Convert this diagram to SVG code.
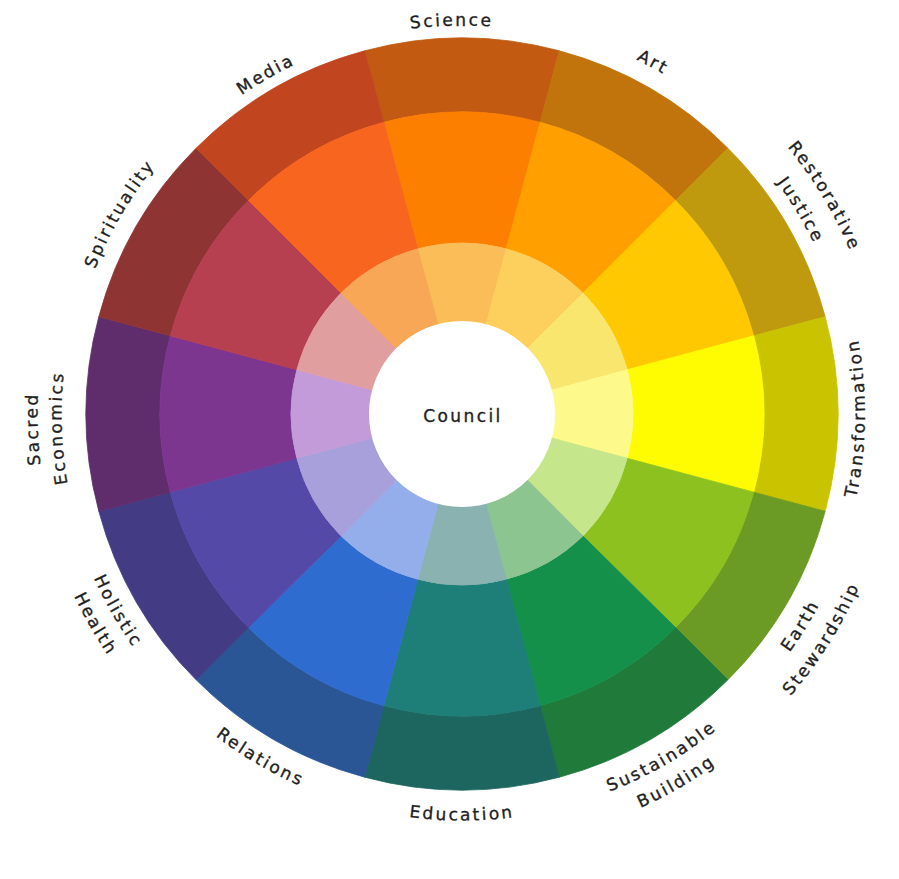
<svg xmlns="http://www.w3.org/2000/svg" width="899" height="879" viewBox="0 0 899 879">
<style>
.w { stroke-width: 0.8; stroke-linejoin: round; }
.lbl { font-family: "DejaVu Sans", "Liberation Sans", sans-serif; font-size: 17px; letter-spacing: 2.4px; fill: #1f1f1f; stroke: #1f1f1f; stroke-width: 0.35px; }
</style>
<defs>
<path id="pScience" d="M77.77,356.58 A388.5,388.5 0 0 1 842.70,336.54"/>
<path id="pArt" d="M152.87,168.11 A395,395 0 0 1 836.59,539.33"/>
<path id="pRest" d="M311.13,20.96 A421,421 0 0 1 738.20,731.73"/>
<path id="pJust" d="M321.88,48.97 A391,391 0 0 1 718.52,709.09"/>
<path id="pTrans" d="M527.82,811.59 A403,403 0 0 0 536.13,17.88"/>
<path id="pEarth" d="M310.28,789.51 A405,405 0 0 0 733.00,113.03"/>
<path id="pStew" d="M299.79,815.47 A433,433 0 0 0 751.73,92.22"/>
<path id="pSust" d="M152.28,675.73 A405.5,405.5 0 0 0 842.56,273.98"/>
<path id="pBuild" d="M131.66,693.16 A432.5,432.5 0 0 0 867.90,264.66"/>
<path id="pEdu" d="M61.67,484.59 A406.5,406.5 0 0 0 862.33,484.59"/>
<path id="pRel" d="M81.93,272.65 A405.5,405.5 0 0 0 770.80,676.81"/>
<path id="pHol" d="M204.04,104.38 A403,403 0 0 0 598.51,793.17"/>
<path id="pHealth" d="M187.71,84.79 A428.5,428.5 0 0 0 607.15,817.17"/>
<path id="pSacred" d="M402.92,834.37 A424.5,424.5 0 0 1 373.74,-1.22"/>
<path id="pEcon" d="M406.26,810.60 A400.5,400.5 0 0 1 378.73,22.25"/>
<path id="pSpirit" d="M206.84,714.87 A394.5,394.5 0 0 1 598.87,44.00"/>
<path id="pMedia" d="M97.87,546.53 A387.5,387.5 0 0 1 758.84,164.92"/>
</defs>
<rect width="899" height="879" fill="#ffffff"/>

<g id="science">
<path class="w" fill="#c25a12" stroke="#c25a12" d="M364.68,50.81 A376,376 0 0 1 559.32,50.81 L540.16,122.29 A302,302 0 0 0 383.84,122.29 Z"/>
<path class="w" fill="#fc7f00" stroke="#fc7f00" d="M383.84,122.29 A302,302 0 0 1 540.16,122.29 L506.26,248.83 A171,171 0 0 0 417.74,248.83 Z"/>
<path class="w" fill="#fbbd57" stroke="#fbbd57" d="M462,414 L417.74,248.83 A171,171 0 0 1 506.26,248.83 Z"/>
<text class="lbl"><textPath href="#pScience" startOffset="50%" text-anchor="middle">Science</textPath></text>
</g>
<g id="art">
<path class="w" fill="#c2740c" stroke="#c2740c" d="M559.32,50.81 A376,376 0 0 1 727.87,148.13 L675.55,200.45 A302,302 0 0 0 540.16,122.29 Z"/>
<path class="w" fill="#ffa000" stroke="#ffa000" d="M540.16,122.29 A302,302 0 0 1 675.55,200.45 L582.92,293.09 A171,171 0 0 0 506.26,248.83 Z"/>
<path class="w" fill="#fdcf5d" stroke="#fdcf5d" d="M462,414 L506.26,248.83 A171,171 0 0 1 582.92,293.09 Z"/>
<text class="lbl"><textPath href="#pArt" startOffset="50%" text-anchor="middle">Art</textPath></text>
</g>
<g id="restorative-justice">
<path class="w" fill="#bf9a0e" stroke="#bf9a0e" d="M727.87,148.13 A376,376 0 0 1 825.19,316.68 L753.71,335.84 A302,302 0 0 0 675.55,200.45 Z"/>
<path class="w" fill="#ffc800" stroke="#ffc800" d="M675.55,200.45 A302,302 0 0 1 753.71,335.84 L627.17,369.74 A171,171 0 0 0 582.92,293.09 Z"/>
<path class="w" fill="#f9e66e" stroke="#f9e66e" d="M462,414 L582.92,293.09 A171,171 0 0 1 627.17,369.74 Z"/>
<text class="lbl"><textPath href="#pRest" startOffset="50%" text-anchor="middle">Restorative</textPath></text>
<text class="lbl"><textPath href="#pJust" startOffset="50%" text-anchor="middle">Justice</textPath></text>
</g>
<g id="transformation">
<path class="w" fill="#c9c300" stroke="#c9c300" d="M825.19,316.68 A376,376 0 0 1 825.19,511.32 L753.71,492.16 A302,302 0 0 0 753.71,335.84 Z"/>
<path class="w" fill="#fffb00" stroke="#fffb00" d="M753.71,335.84 A302,302 0 0 1 753.71,492.16 L627.17,458.26 A171,171 0 0 0 627.17,369.74 Z"/>
<path class="w" fill="#fdf98b" stroke="#fdf98b" d="M462,414 L627.17,369.74 A171,171 0 0 1 627.17,458.26 Z"/>
<text class="lbl"><textPath href="#pTrans" startOffset="50%" text-anchor="middle">Transformation</textPath></text>
</g>
<g id="earth-stewardship">
<path class="w" fill="#6b9a25" stroke="#6b9a25" d="M825.19,511.32 A376,376 0 0 1 727.87,679.87 L675.55,627.55 A302,302 0 0 0 753.71,492.16 Z"/>
<path class="w" fill="#8cc11f" stroke="#8cc11f" d="M753.71,492.16 A302,302 0 0 1 675.55,627.55 L582.92,535.92 A171,171 0 0 0 627.17,458.26 Z"/>
<path class="w" fill="#c5e68a" stroke="#c5e68a" d="M462,414 L627.17,458.26 A171,171 0 0 1 582.92,535.92 Z"/>
<text class="lbl"><textPath href="#pEarth" startOffset="50%" text-anchor="middle">Earth</textPath></text>
<text class="lbl"><textPath href="#pStew" startOffset="50%" text-anchor="middle">Stewardship</textPath></text>
</g>
<g id="sustainable-building">
<path class="w" fill="#207a3a" stroke="#207a3a" d="M727.87,679.87 A376,376 0 0 1 559.32,777.19 L540.16,705.71 A302,302 0 0 0 675.55,627.55 Z"/>
<path class="w" fill="#14904b" stroke="#14904b" d="M675.55,627.55 A302,302 0 0 1 540.16,705.71 L506.26,579.17 A171,171 0 0 0 582.92,535.92 Z"/>
<path class="w" fill="#8cc58f" stroke="#8cc58f" d="M462,414 L582.92,535.92 A171,171 0 0 1 506.26,579.17 Z"/>
<text class="lbl"><textPath href="#pSust" startOffset="50%" text-anchor="middle">Sustainable</textPath></text>
<text class="lbl"><textPath href="#pBuild" startOffset="50%" text-anchor="middle">Building</textPath></text>
</g>
<g id="education">
<path class="w" fill="#1d665f" stroke="#1d665f" d="M559.32,777.19 A376,376 0 0 1 364.68,777.19 L383.84,705.71 A302,302 0 0 0 540.16,705.71 Z"/>
<path class="w" fill="#1e7e78" stroke="#1e7e78" d="M540.16,705.71 A302,302 0 0 1 383.84,705.71 L417.74,579.17 A171,171 0 0 0 506.26,579.17 Z"/>
<path class="w" fill="#89b2b0" stroke="#89b2b0" d="M462,414 L506.26,579.17 A171,171 0 0 1 417.74,579.17 Z"/>
<text class="lbl"><textPath href="#pEdu" startOffset="50%" text-anchor="middle">Education</textPath></text>
</g>
<g id="relations">
<path class="w" fill="#2a5696" stroke="#2a5696" d="M364.68,777.19 A376,376 0 0 1 196.13,679.87 L248.45,627.55 A302,302 0 0 0 383.84,705.71 Z"/>
<path class="w" fill="#2f6ccf" stroke="#2f6ccf" d="M383.84,705.71 A302,302 0 0 1 248.45,627.55 L341.09,535.92 A171,171 0 0 0 417.74,579.17 Z"/>
<path class="w" fill="#94aeec" stroke="#94aeec" d="M462,414 L417.74,579.17 A171,171 0 0 1 341.09,535.92 Z"/>
<text class="lbl"><textPath href="#pRel" startOffset="50%" text-anchor="middle">Relations</textPath></text>
</g>
<g id="holistic-health">
<path class="w" fill="#433c84" stroke="#433c84" d="M196.13,679.87 A376,376 0 0 1 98.81,511.32 L170.29,492.16 A302,302 0 0 0 248.45,627.55 Z"/>
<path class="w" fill="#5549a8" stroke="#5549a8" d="M248.45,627.55 A302,302 0 0 1 170.29,492.16 L296.83,458.26 A171,171 0 0 0 341.09,535.92 Z"/>
<path class="w" fill="#a7a0db" stroke="#a7a0db" d="M462,414 L341.09,535.92 A171,171 0 0 1 296.83,458.26 Z"/>
<text class="lbl"><textPath href="#pHol" startOffset="50%" text-anchor="middle">Holistic</textPath></text>
<text class="lbl"><textPath href="#pHealth" startOffset="50%" text-anchor="middle">Health</textPath></text>
</g>
<g id="sacred-economics">
<path class="w" fill="#5f2d6c" stroke="#5f2d6c" d="M98.81,511.32 A376,376 0 0 1 98.81,316.68 L170.29,335.84 A302,302 0 0 0 170.29,492.16 Z"/>
<path class="w" fill="#7c3690" stroke="#7c3690" d="M170.29,492.16 A302,302 0 0 1 170.29,335.84 L296.83,369.74 A171,171 0 0 0 296.83,458.26 Z"/>
<path class="w" fill="#c39bd9" stroke="#c39bd9" d="M462,414 L296.83,458.26 A171,171 0 0 1 296.83,369.74 Z"/>
<text class="lbl"><textPath href="#pSacred" startOffset="50%" text-anchor="middle">Sacred</textPath></text>
<text class="lbl"><textPath href="#pEcon" startOffset="50%" text-anchor="middle">Economics</textPath></text>
</g>
<g id="spirituality">
<path class="w" fill="#8e3533" stroke="#8e3533" d="M98.81,316.68 A376,376 0 0 1 196.13,148.13 L248.45,200.45 A302,302 0 0 0 170.29,335.84 Z"/>
<path class="w" fill="#b63f50" stroke="#b63f50" d="M170.29,335.84 A302,302 0 0 1 248.45,200.45 L341.09,293.09 A171,171 0 0 0 296.83,369.74 Z"/>
<path class="w" fill="#e19e9f" stroke="#e19e9f" d="M462,414 L296.83,369.74 A171,171 0 0 1 341.09,293.09 Z"/>
<text class="lbl"><textPath href="#pSpirit" startOffset="50%" text-anchor="middle">Spirituality</textPath></text>
</g>
<g id="media">
<path class="w" fill="#c1461f" stroke="#c1461f" d="M196.13,148.13 A376,376 0 0 1 364.68,50.81 L383.84,122.29 A302,302 0 0 0 248.45,200.45 Z"/>
<path class="w" fill="#f7651f" stroke="#f7651f" d="M248.45,200.45 A302,302 0 0 1 383.84,122.29 L417.74,248.83 A171,171 0 0 0 341.09,293.09 Z"/>
<path class="w" fill="#f8a757" stroke="#f8a757" d="M462,414 L341.09,293.09 A171,171 0 0 1 417.74,248.83 Z"/>
<text class="lbl"><textPath href="#pMedia" startOffset="50%" text-anchor="middle">Media</textPath></text>
</g>
<g id="council">
<circle cx="462" cy="414" r="93" fill="#ffffff"/>
<text class="lbl" x="463" y="422" text-anchor="middle">Council</text>
</g>
<g id="connectors"/>
</svg>
